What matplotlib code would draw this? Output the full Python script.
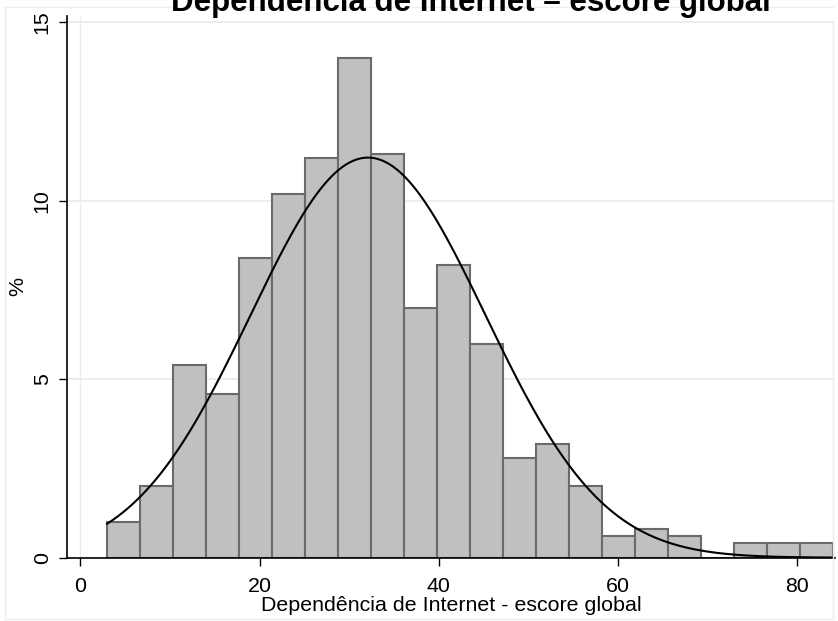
import numpy as np
import matplotlib
matplotlib.use("Agg")
import matplotlib.pyplot as plt
from matplotlib.lines import Line2D

plt.rcParams['font.family'] = ['Liberation Sans', 'DejaVu Sans']

# Histogram of the global score (22 bins from 3 to 84), heights in percent
bin_start = 3.0
bin_end = 84.0
percent = [1.0, 2.0, 5.4, 4.6, 8.4, 10.2, 11.2, 14.0, 11.3, 7.0, 8.2,
           6.0, 2.8, 3.2, 2.0, 0.6, 0.8, 0.6, 0.0, 0.4, 0.4, 0.4]

# Fitted normal curve parameters
curve_mean = 32.1
curve_sd = 13.1

x_ticks = [0, 20, 40, 60, 80]
y_ticks = [0, 5, 10, 15]
title = "Dependência de Internet – escore global"
x_title = "Dependência de Internet - escore global"
y_title = "%"

W, H = 838, 621
fig = plt.figure(figsize=(W / 100, H / 100), dpi=100)
fig.patch.set_facecolor('white')

# faint outer graph-region frame
frame_col = '#e8eff2'
def fx(p):
    return p / W
def fy(p):
    return 1 - p / H
for xs, ys in [((5, 833), (7, 7)), ((5, 5), (7, 619)), ((5, 833), (619, 619)),
               ((833, 833), (22, 619))]:
    fig.add_artist(Line2D([fx(xs[0]), fx(xs[1])], [fy(ys[0]), fy(ys[1])],
                          color=frame_col, lw=1.0, transform=fig.transFigure))

ax = fig.add_axes([fx(67), fy(557.7), fx(835) - fx(67), fy(16) - fy(557.7)])
ax.set_facecolor('white')

n_bins = len(percent)
edges = np.linspace(bin_start, bin_end, n_bins + 1)
width = edges[1] - edges[0]
ax.bar(edges[:-1], percent, width=width, align='edge',
       color='#c0c0c0', edgecolor='#6a6a6a', linewidth=1.5, zorder=2)

# normal density scaled to percent per bin
xs = np.linspace(bin_start, bin_end, 400)
dens = 100 * width / (curve_sd * np.sqrt(2 * np.pi)) * \
    np.exp(-0.5 * ((xs - curve_mean) / curve_sd) ** 2)
ax.plot(xs, dens, color='black', lw=1.5, zorder=3)

ax.set_xlim(-1.48, 84.2)
ax.set_ylim(0, 15.18)

# grid lines
for yv in y_ticks[1:]:
    ax.axhline(yv, color='#e6edf1', lw=1.3, zorder=1)
ax.axvline(0, color='#e6edf1', lw=1.0, zorder=1)

ax.set_xticks(x_ticks)
ax.set_yticks(y_ticks)
ax.set_xticklabels([str(v) for v in x_ticks])
ax.set_yticklabels([str(v) for v in y_ticks], rotation=90, va='center')
ax.tick_params(axis='both', direction='out', length=6, width=1.0,
               labelsize=15.4, color='black')
ax.tick_params(axis='x', pad=8)
ax.tick_params(axis='y', pad=5)

for side in ['top', 'right']:
    ax.spines[side].set_visible(False)
for side in ['left', 'bottom']:
    ax.spines[side].set_linewidth(1.2)
    ax.spines[side].set_color('black')

ax.set_xlabel(x_title, fontsize=15.4, labelpad=0)
ax.set_ylabel(y_title, fontsize=15.4, labelpad=4)

fig.text(fx(471), fy(11), title, ha='center', va='baseline',
         fontsize=22.5, fontweight='bold')

fig.savefig('out.png', dpi=100)
